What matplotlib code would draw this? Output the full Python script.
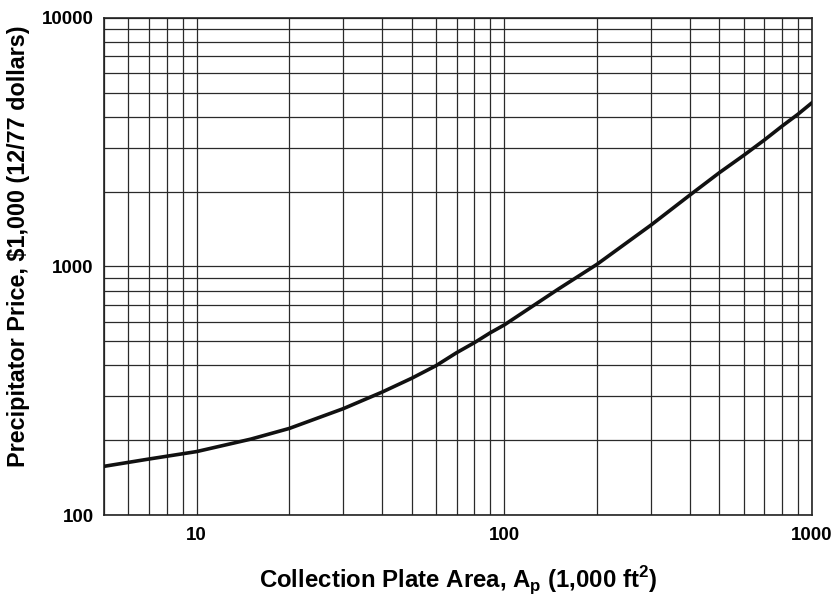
import matplotlib
matplotlib.use("Agg")
import matplotlib.pyplot as plt
from matplotlib.ticker import LogLocator, FixedLocator, FixedFormatter, NullFormatter

plt.rcParams['font.family'] = ['Liberation Sans', 'DejaVu Sans']
plt.rcParams['mathtext.fontset'] = 'custom'
plt.rcParams['mathtext.rm'] = 'Liberation Sans:bold'
plt.rcParams['mathtext.bf'] = 'Liberation Sans:bold'

# collection plate area (1,000 ft2) vs precipitator price ($1,000)
area = [5, 7, 10, 15, 20, 30, 40, 50, 60, 70, 80, 90, 100, 150, 200,
        300, 400, 500, 600, 700, 800, 900, 1000]
price = [157, 168, 180, 202, 223, 268, 312, 355, 399, 450, 494, 541, 582, 812, 1020,
         1469, 1934, 2385, 2801, 3228, 3675, 4098, 4560]

x_ticks = [10, 100, 1000]
x_labels = ['10', '100', '1000']
y_ticks = [100, 1000, 10000]
y_labels = ['100', '1000', '10000']

fig = plt.figure(figsize=(8.33, 5.99), dpi=100)
ax = fig.add_axes([0.1248, 0.1402, 0.85, 0.8298])

ax.plot(area, price, color='#111111', lw=2.6, solid_joinstyle='round', zorder=3)

ax.set_xscale('log')
ax.set_yscale('log')
ax.set_xlim(5, 1000)
ax.set_ylim(100, 10000)

ax.xaxis.set_major_locator(FixedLocator(x_ticks))
ax.xaxis.set_major_formatter(FixedFormatter(x_labels))
ax.yaxis.set_major_locator(FixedLocator(y_ticks))
ax.yaxis.set_major_formatter(FixedFormatter(y_labels))
ax.xaxis.set_minor_locator(LogLocator(base=10, subs=range(2, 10)))
ax.yaxis.set_minor_locator(LogLocator(base=10, subs=range(2, 10)))
ax.xaxis.set_minor_formatter(NullFormatter())
ax.yaxis.set_minor_formatter(NullFormatter())

ax.grid(True, which='both', color='#2a2a2a', lw=0.9)
ax.tick_params(which='both', length=0)
ax.tick_params(axis='x', pad=8.5)
ax.tick_params(axis='y', pad=7.5)
for lab in ax.get_xticklabels() + ax.get_yticklabels():
    lab.set_fontweight('bold')
    lab.set_fontsize(13.5)

for s in ax.spines.values():
    s.set_color('#222222')
    s.set_linewidth(1.2)

ax.set_xlabel('Collection Plate Area, A$_\\mathrm{p}$ (1,000 ft$^\\mathrm{2}$)',
              fontsize=17.3, fontweight='bold', labelpad=15)
ax.set_ylabel('Precipitator Price, \\$1,000 (12/77 dollars)',
              fontsize=16.8, fontweight='bold')
ax.yaxis.set_label_coords(-0.105, 0.54)

fig.savefig('out.png', dpi=100)
